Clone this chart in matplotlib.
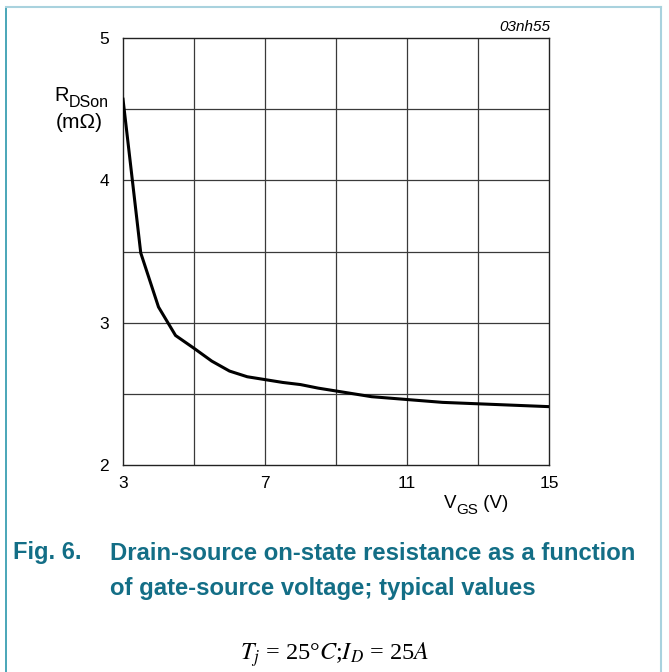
import matplotlib
matplotlib.use("Agg")
import matplotlib.pyplot as plt
from matplotlib.lines import Line2D

vgs = [3.0, 3.5, 4.0, 4.48, 5.0, 5.5, 6.0, 6.5, 7.0, 7.5, 8.0, 8.5, 9.0, 9.5, 10.0, 11.0, 12.0, 13.0, 14.0, 15.0]
rdson = [4.57, 3.49, 3.11, 2.91, 2.82, 2.73, 2.66, 2.62, 2.60, 2.58, 2.565, 2.54, 2.52, 2.50, 2.48, 2.46, 2.44, 2.43, 2.42, 2.41]
x_ticks = [3, 7, 11, 15]
y_ticks = [2, 3, 4, 5]

W, H = 669, 672
fig = plt.figure(figsize=(W / 100, H / 100), dpi=100)
plt.rcParams['font.family'] = ['Liberation Sans', 'DejaVu Sans']

L, R, T, B = 123, 549, 38, 465
ax = fig.add_axes([L / W, 1 - B / H, (R - L) / W, (B - T) / H])
ax.set_xlim(3, 15)
ax.set_ylim(2, 5)

grid_c = '#3a3a3a'
for xv in [5, 7, 9, 11, 13]:
    ax.axvline(xv, color=grid_c, lw=0.9, zorder=1)
for yv in [2.5, 3.0, 3.5, 4.0, 4.5]:
    ax.axhline(yv, color=grid_c, lw=0.9, zorder=1)

ax.plot(vgs, rdson, color='black', lw=2.2, zorder=3, solid_joinstyle='miter')

ax.set_xticks(x_ticks)
ax.set_yticks(y_ticks)
ax.set_xticklabels([str(v) for v in x_ticks], fontsize=12.5)
ax.set_yticklabels([str(v) for v in y_ticks], fontsize=12.5)
ax.tick_params(axis='y', length=0, pad=10)
ax.tick_params(axis='x', length=0, pad=8)
for s in ax.spines.values():
    s.set_color('#222222')
    s.set_linewidth(1.0)

def fx(px):
    return px / W

def fy(py):
    return 1 - py / H

renderer = fig.canvas.get_renderer()

def chain(x0, parts):
    """parts: list of (text, fontsize, baseline_px). Place sequentially from x0 (px)."""
    x = x0
    for txt, fs, base in parts:
        t = fig.text(fx(x), fy(base), txt, fontsize=fs, ha='left', va='baseline')
        bb = t.get_window_extent(renderer=renderer)
        x += bb.width

# y label
chain(54, [('R', 14.5, 101), ('DSon', 11.5, 107)])
fig.text(fx(79), fy(128), '(mΩ)', fontsize=15, ha='center', va='baseline')

# x label
chain(444, [('V', 13.5, 508), ('GS', 11, 514), (' (V)', 13.5, 508)])

fig.text(fx(550), fy(27), '03nh55', fontsize=11, style='italic', ha='right', va='center')

teal = '#136e86'
fig.text(fx(13), fy(553), 'Fig. 6.', fontsize=17, weight='bold', color=teal, ha='left', va='center')
fig.text(fx(110), fy(553), 'Drain-source on-state resistance as a function', fontsize=17.2,
         weight='bold', color=teal, ha='left', va='center')
fig.text(fx(110), fy(589), 'of gate-source voltage; typical values', fontsize=17.2,
         weight='bold', color=teal, ha='left', va='center')

fig.text(fx(335), fy(655), r'$T_j$ = 25°$C$;$I_D$ = 25$A$', fontsize=17.5, ha='center', va='center',
         family='Liberation Serif', math_fontfamily='stix')

# frame
fig.add_artist(Line2D([fx(6), fx(6)], [fy(7), 0], color='#3a9fb2', lw=1.3))
fig.add_artist(Line2D([fx(6), fx(661)], [fy(7), fy(7)], color='#a9d2de', lw=1.5))
fig.add_artist(Line2D([fx(661), fx(661)], [fy(7), 0], color='#a9d2de', lw=1.5))

fig.savefig('out.png', dpi=100)
